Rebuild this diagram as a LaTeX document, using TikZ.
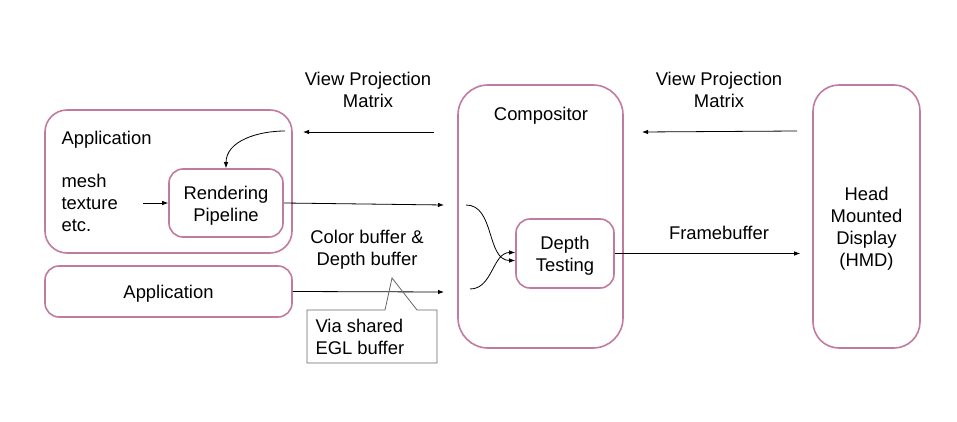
\documentclass[tikz,border=0pt]{standalone}
\usepackage{fontspec}
\setmainfont{Liberation Sans}
\usetikzlibrary{arrows.meta}
\definecolor{boxpink}{HTML}{C27BA0}
\definecolor{calloutgray}{HTML}{666666}
\newcommand{\txtsiz}{\fontsize{18.4}{22}\selectfont}
\tikzset{
    pinkbox/.style={draw=boxpink, line width=1.6pt, rounded corners=#1, inner sep=0pt},
    pinkbox/.default=22pt,
    arr/.style={-{Latex[length=6pt,width=4.5pt]}, line width=0.8pt},
}

\begin{document}
\begin{tikzpicture}[x=1pt, y=-1pt, font=\txtsiz]
    \useasboundingbox (0,0) rectangle (957,422);

    % left side: applications
    \node[pinkbox, minimum width=247pt, minimum height=143pt] (app1) at (168.5,181.5) {};
    \node[anchor=west] (app1lbl) at (58,140) {Application};
    \node[align=left,anchor=west] (mesh) at (58,203) {mesh\\ texture\\ etc.};
    \node[pinkbox=14pt, minimum width=114pt, minimum height=68pt] (pipe) at (226,203) {};
    \node[align=center] (pipelbl) at (226,206) {Rendering\\ Pipeline};
    \node[pinkbox=14pt, minimum width=247pt, minimum height=51pt] (app2) at (168.5,291.5) {};
    \node (app2lbl) at (168.5,294) {Application};

    % compositor and display
    \node[pinkbox=30pt, minimum width=165pt, minimum height=263pt] (comp) at (540.5,216.5) {};
    \node (complbl) at (541,116) {Compositor};
    \node[pinkbox=14pt, minimum width=98pt, minimum height=69pt] (depth) at (565,253.5) {};
    \node[align=center] (depthlbl) at (565,256) {Depth\\ Testing};
    \node[pinkbox=26pt, minimum width=107pt, minimum height=263pt] (hmd) at (866.5,216.5) {};
    \node[align=center] (hmdlbl) at (866.5,229) {Head\\ Mounted\\ Display\\ (HMD)};

    % labels
    \node[align=center] (vpm1) at (368,90) {View Projection\\ Matrix};
    \node[align=center] (vpm2) at (719,90) {View Projection\\ Matrix};
    \node[align=center] (cdbuf) at (367,250) {Color buffer \&\\ Depth buffer};
    \node (fbuf) at (719,233) {Framebuffer};

    \coordinate (meshout) at (143,203);
    \coordinate (vpmin) at (285,131);
    \coordinate (vpm1s) at (434,132);
    \coordinate (vpm1e) at (303,132);
    \coordinate (vpm2s) at (797,131);
    \coordinate (vpm2e) at (642,132);
    \coordinate (pipeout) at (444,205);
    \coordinate (app2out) at (444,292);
    \coordinate (cin1) at (466,205);
    \coordinate (cin2) at (470,289);

    \draw[arr] (meshout) -- (pipe.west);
    \draw[arr] (vpmin) to[out=180,in=90] (pipe.north);
    \draw[arr] (vpm1s) -- (vpm1e);
    \draw[arr] (vpm2s) -- (vpm2e);
    \draw[arr] (pipe.east) -- (pipeout);
    \draw[arr] (app2.east) -- (app2out);
    \draw[arr] (cin1) to[out=0,in=180] ([yshift=-7pt]depth.west);
    \draw[arr] (cin2) to[out=0,in=180] ([yshift=1pt]depth.west);
    \draw[arr] (depth.east) -- ([xshift=-12pt]depth.east -| hmd.west);

    % callout
    \draw[calloutgray, line width=0.8pt] (307,310) -- (385,310) -- (392,278) -- (417,310)
        -- (437,310) -- (437,363) -- (307,363) -- cycle;
    \node[align=left,anchor=west] (egl) at (312,337) {Via shared\\ EGL buffer};

\end{tikzpicture}
\end{document}
